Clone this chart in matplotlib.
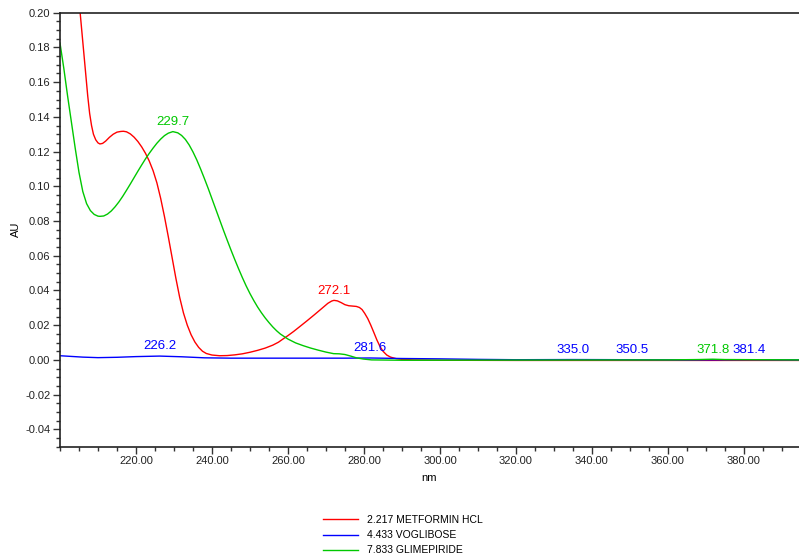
import matplotlib
matplotlib.use("Agg")
import matplotlib.pyplot as plt
from matplotlib.ticker import MultipleLocator, FormatStrFormatter
from matplotlib.lines import Line2D

plt.rcParams['font.family'] = ['Liberation Sans', 'DejaVu Sans']
plt.rcParams['axes.unicode_minus'] = False

# ---- data ----
red_nm = [204.6, 205.3, 205.8, 206.3, 206.8, 207.3, 207.8, 208.3, 208.8, 209.4,
          210.0, 210.5, 211.2, 212.0, 213.0, 214.0, 215.0, 216.0, 216.7, 217.5,
          218.5, 219.5, 220.5, 221.5, 222.5, 223.5, 224.5, 225.5, 226.5, 227.5,
          228.5, 229.5, 230.5, 231.5, 232.5, 233.5, 234.5, 235.5, 236.5, 237.5,
          238.5, 240.0, 242.0, 244.0, 246.0, 248.0, 250.0, 252.0, 254.0, 256.0,
          257.5, 258.8, 260.0, 261.5, 263.0, 265.0, 267.0, 269.0, 270.5, 271.5,
          272.1, 273.0, 274.0, 275.0, 276.0, 277.0, 278.0, 278.8, 279.5, 280.2,
          281.0, 281.8, 282.6, 283.4, 284.2, 285.0, 286.0, 287.0, 288.5, 290.0,
          293.0, 300.0, 320.0, 340.0, 360.0, 380.0, 395.0]
red_au = [0.215, 0.200, 0.188, 0.176, 0.164, 0.152, 0.142, 0.135, 0.130, 0.1268,
          0.1250, 0.1244, 0.1247, 0.1260, 0.1282, 0.1300, 0.1312, 0.1316, 0.1317, 0.1314,
          0.1302, 0.1283, 0.1258, 0.1227, 0.1190, 0.1145, 0.1090, 0.1020, 0.0930, 0.0825,
          0.0710, 0.0590, 0.0470, 0.0360, 0.0270, 0.0200, 0.0145, 0.0103, 0.0072, 0.0050,
          0.0037, 0.0028, 0.0024, 0.0025, 0.0029, 0.0035, 0.0044, 0.0055, 0.0068, 0.0085,
          0.0102, 0.0122, 0.0140, 0.0164, 0.0190, 0.0225, 0.0261, 0.0298, 0.0326, 0.0339,
          0.0343, 0.0340, 0.0330, 0.0318, 0.0312, 0.0310, 0.0308, 0.0302, 0.0290, 0.0268,
          0.0238, 0.0200, 0.0158, 0.0115, 0.0078, 0.0050, 0.0028, 0.0016, 0.0007, 0.0003,
          0.0000, -0.0002, -0.0003, -0.0003, -0.0003, -0.0003, -0.0003]

green_nm = [200.0, 201.0, 202.0, 203.0, 204.0, 205.0, 206.0, 207.0, 208.0, 209.0,
            210.0, 210.5, 211.5, 212.5, 213.5, 214.5, 215.5, 216.5, 217.5, 218.5,
            219.5, 220.5, 221.5, 222.5, 223.5, 224.5, 225.5, 226.5, 227.5, 228.5,
            229.7, 231.0, 232.0, 233.0, 234.0, 235.0, 236.0, 237.0, 238.0, 239.0,
            240.0, 241.0, 242.0, 243.0, 244.0, 245.0, 246.0, 247.0, 248.0, 249.0,
            250.0, 251.0, 252.0, 253.0, 254.0, 255.0, 256.0, 257.0, 258.0, 260.0,
            262.0, 264.0, 266.0, 268.0, 270.0, 272.0, 273.5, 275.0, 276.5, 278.0,
            279.8, 282.0, 290.0, 320.0, 360.0, 368.0, 371.8, 375.0, 395.0]
green_au = [0.1825, 0.168, 0.152, 0.137, 0.122, 0.108, 0.097, 0.0900, 0.0860, 0.0838,
            0.0828, 0.0827, 0.0829, 0.0840, 0.0858, 0.0882, 0.0910, 0.0942, 0.0977, 0.1013,
            0.1050, 0.1087, 0.1123, 0.1158, 0.1190, 0.1220, 0.1248, 0.1272, 0.1292, 0.1306,
            0.1315, 0.1308, 0.1293, 0.1270, 0.1238, 0.1198, 0.1152, 0.1100, 0.1045, 0.0988,
            0.0928, 0.0868, 0.0808, 0.0748, 0.0690, 0.0633, 0.0578, 0.0525, 0.0474, 0.0426,
            0.0382, 0.0342, 0.0305, 0.0272, 0.0242, 0.0215, 0.0190, 0.0168, 0.0149, 0.0120,
            0.0098, 0.0082, 0.0068, 0.0056, 0.0045, 0.0036, 0.0035, 0.0031, 0.0022, 0.0012,
            0.0005, 0.0000, -0.0002, -0.0001, 0.0000, 0.0002, 0.0004, 0.0002, 0.0000]

blue_nm = [200.0, 203.0, 206.0, 210.0, 215.0, 220.0, 226.2, 232.0, 238.0, 245.0,
           260.0, 275.0, 281.6, 290.0, 300.0, 310.0, 320.0, 335.0, 350.5, 365.0,
           381.4, 395.0]
blue_au = [0.0024, 0.0020, 0.0016, 0.0013, 0.0015, 0.0019, 0.0022, 0.0018, 0.0012, 0.0010,
           0.0010, 0.0010, 0.0011, 0.0008, 0.0006, 0.0003, 0.0001, 0.0002, 0.0001, 0.0000,
           0.0001, 0.0000]

series_labels = ['2.217 METFORMIN HCL', '4.433 VOGLIBOSE', '7.833 GLIMEPIRIDE']
series_colors = ['#ff0000', '#0000ff', '#00c800']

peak_nm = [226.2, 229.7, 272.1, 281.6, 335.0, 350.5, 371.8, 381.4]
peak_au = [0.0022, 0.1315, 0.0343, 0.0011, 0.0002, 0.0001, 0.0004, 0.0001]
peak_series = [1, 2, 0, 1, 1, 1, 2, 1]

# ---- figure ----
fig = plt.figure(figsize=(7.99, 5.59), dpi=100)
ax = fig.add_axes([60/799, 1 - 446.7/559, 1 - 60/799, (446.7 - 12.7)/559])

for nm, au, c in zip([red_nm, blue_nm, green_nm], [red_au, blue_au, green_au],
                     [series_colors[0], series_colors[1], series_colors[2]]):
    ax.plot(nm, au, color=c, lw=1.0)

for x, y, s in zip(peak_nm, peak_au, peak_series):
    ax.annotate(f"{x:.1f}", (x, y), xytext=(0, 2.6), textcoords='offset points',
                ha='center', va='bottom', fontsize=9.5, color=series_colors[s])

ax.set_xlim(200, 394.5)
ax.set_ylim(-0.05, 0.20)
ax.xaxis.set_major_locator(MultipleLocator(20))
ax.xaxis.set_minor_locator(MultipleLocator(5))
ax.yaxis.set_major_locator(MultipleLocator(0.02))
ax.yaxis.set_minor_locator(MultipleLocator(0.005))
ax.xaxis.set_major_formatter(FormatStrFormatter('%.2f'))
ax.yaxis.set_major_formatter(FormatStrFormatter('%.2f'))
ax.set_xticks([t for t in range(220, 400, 20)])
ax.set_yticks([round(-0.04 + 0.02 * i, 2) for i in range(13)])

ax.tick_params(which='major', direction='out', length=5, width=1, labelsize=8,
               color='#333333', labelcolor='#222222', pad=2)
ax.tick_params(which='minor', direction='out', length=3, width=1, color='#333333')
ax.spines['right'].set_visible(False)
for sp in ['left', 'bottom', 'top']:
    ax.spines[sp].set_linewidth(1.2)
    ax.spines[sp].set_color('#222222')

ax.set_ylabel('AU', fontsize=8)
ax.yaxis.set_label_coords(-0.053, 0.5)
ax.set_xlabel('nm', fontsize=8, labelpad=5)

handles = [Line2D([0], [0], color=c, lw=1.0) for c in series_colors]
fig.legend(handles, series_labels, loc='upper left',
           bbox_to_anchor=(323/799, 1 - 515/559), frameon=False,
           fontsize=7.5, handlelength=3.4, handletextpad=0.85,
           labelspacing=0.5, borderpad=0, borderaxespad=0)

fig.savefig('out.png', dpi=100)
